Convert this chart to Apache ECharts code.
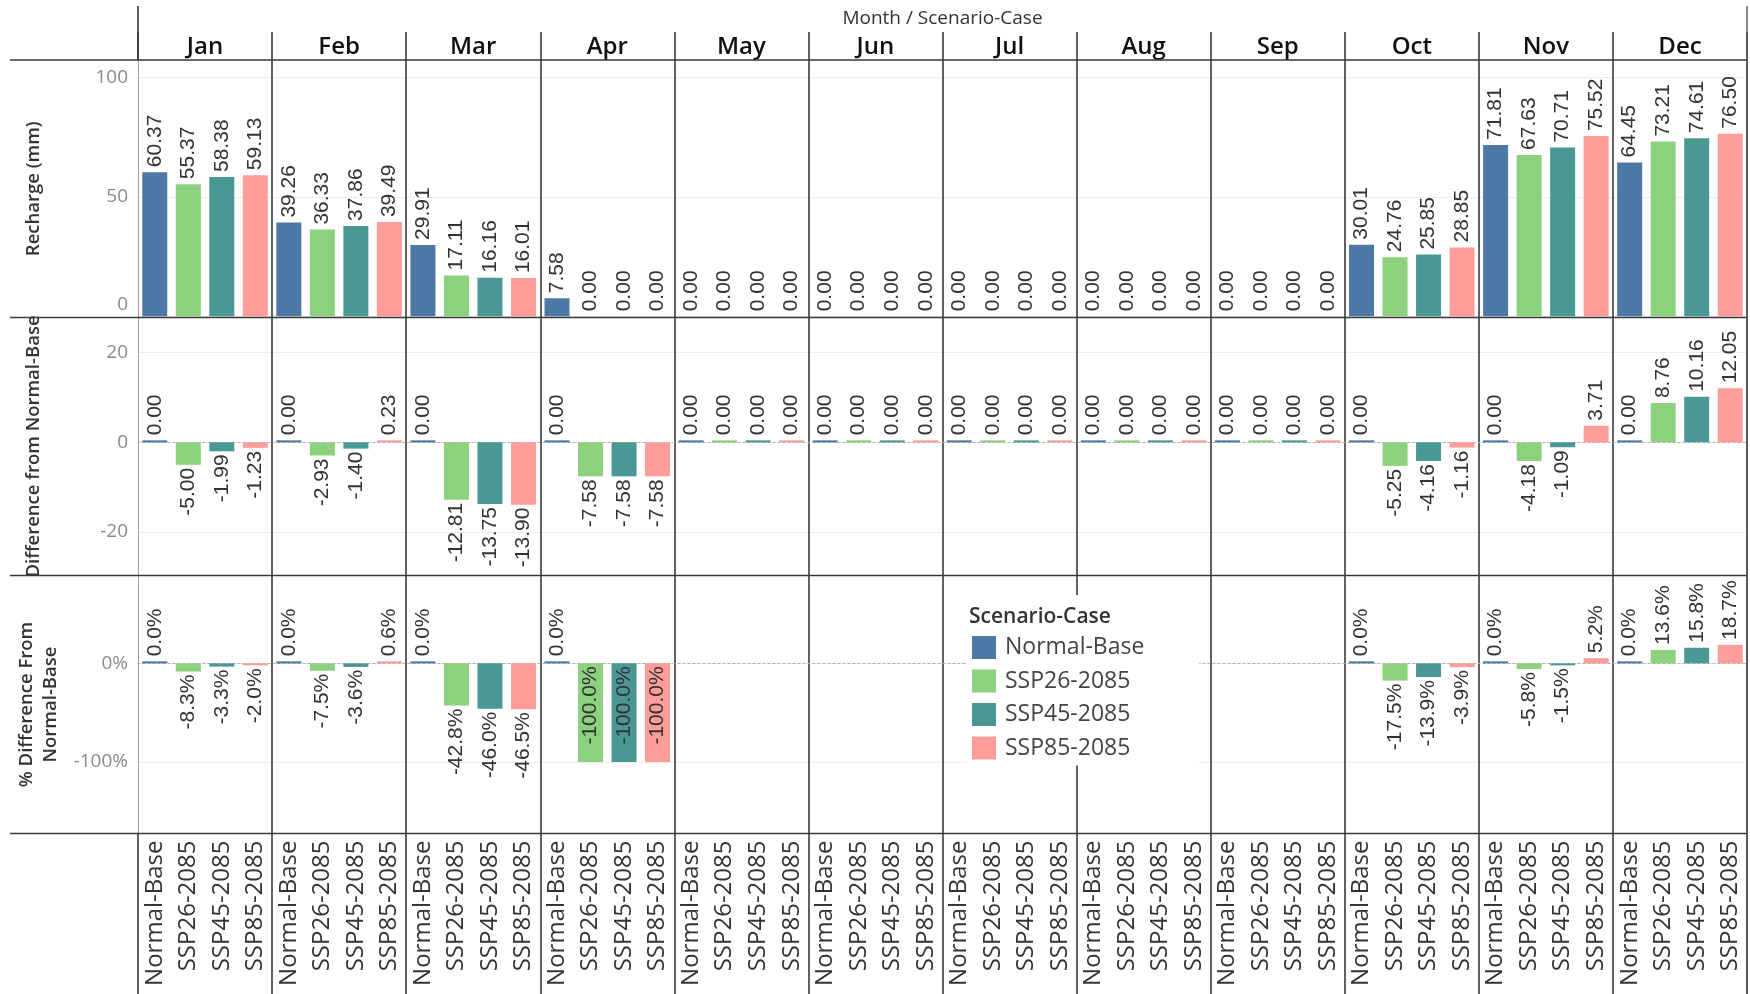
<!DOCTYPE html>
<html>
<head>
<meta charset="utf-8">
<script src="https://cdn.jsdelivr.net/npm/echarts@6/dist/echarts.min.js"></script>
<style>
  html, body { margin: 0; padding: 0; background: #ffffff; }
  #chart { width: 1750px; height: 994px; }
</style>
</head>
<body>
<div id="chart"></div>
<script>
// ---- data -------------------------------------------------------------
const months = ['Jan', 'Feb', 'Mar', 'Apr', 'May', 'Jun', 'Jul', 'Aug', 'Sep', 'Oct', 'Nov', 'Dec'];
const scenarios = ['Normal-Base', 'SSP26-2085', 'SSP45-2085', 'SSP85-2085'];
const scenarioColors = ['#4e79a7', '#8cd17d', '#499894', '#ff9d9a'];

// Monthly recharge (mm)
const rechargeNormalBase = [60.37, 39.26, 29.91, 7.58, 0, 0, 0, 0, 0, 30.01, 71.81, 64.45];
const rechargeSSP26      = [55.37, 36.33, 17.11, 0, 0, 0, 0, 0, 0, 24.76, 67.63, 73.21];
const rechargeSSP45      = [58.38, 37.86, 16.16, 0, 0, 0, 0, 0, 0, 25.85, 70.71, 74.61];
const rechargeSSP85      = [59.13, 39.49, 16.01, 0, 0, 0, 0, 0, 0, 28.85, 75.52, 76.50];

// Difference from Normal-Base (mm)
const diffNormalBase = [0, 0, 0, 0, 0, 0, 0, 0, 0, 0, 0, 0];
const diffSSP26      = [-5.00, -2.93, -12.81, -7.58, 0, 0, 0, 0, 0, -5.25, -4.18, 8.76];
const diffSSP45      = [-1.99, -1.40, -13.75, -7.58, 0, 0, 0, 0, 0, -4.16, -1.09, 10.16];
const diffSSP85      = [-1.23, 0.23, -13.90, -7.58, 0, 0, 0, 0, 0, -1.16, 3.71, 12.05];

// % difference from Normal-Base (undefined where the base is zero)
const pctNormalBase = [0, 0, 0, 0, null, null, null, null, null, 0, 0, 0];
const pctSSP26      = [-8.3, -7.5, -42.8, -100.0, null, null, null, null, null, -17.5, -5.8, 13.6];
const pctSSP45      = [-3.3, -3.6, -46.0, -100.0, null, null, null, null, null, -13.9, -1.5, 15.8];
const pctSSP85      = [-2.0, 0.6, -46.5, -100.0, null, null, null, null, null, -3.9, 5.2, 18.7];

// Tick labels for each row
const rechargeTicks = [0, 50, 100];
const diffTicks = [-20, 0, 20];
const pctTicks = [-100, 0];

// ---- layout -----------------------------------------------------------
const W = 1750, H = 994;
const L = 138, R = 1747;
const rowEdges = [60, 317.5, 575.5, 833.5];
const frame = '#3a3a3a';
const textFont = 'Open Sans';
const valueFont = 'Liberation Sans';

// one category per (month, scenario)
const categories = [];
months.forEach(() => scenarios.forEach(s => categories.push(s)));

const rows = [
  {
    values: [rechargeNormalBase, rechargeSSP26, rechargeSSP45, rechargeSSP85],
    fmt: v => v.toFixed(2), minH: 0, min: -0.5, max: 107.4, step: 50,
    ticks: rechargeTicks, tickFmt: v => String(v), name: 'Recharge (mm)', nameGap: 92
  },
  {
    values: [diffNormalBase, diffSSP26, diffSSP45, diffSSP85],
    fmt: v => v.toFixed(2), minH: 2, min: -29.7, max: 27.85, step: 20,
    ticks: diffTicks, tickFmt: v => String(v), name: 'Difference from Normal-Base', nameGap: 92
  },
  {
    values: [pctNormalBase, pctSSP26, pctSSP45, pctSSP85],
    fmt: v => v.toFixed(1) + '%', minH: 2, min: -172.4, max: 89, step: 100,
    ticks: pctTicks, tickFmt: v => v + '%', name: '% Difference From\nNormal-Base', nameGap: 68,
    insideBelow: -90
  }
];

function labelFor(v, row) {
  if (row.insideBelow != null && v <= row.insideBelow) {
    return { position: 'insideTop', align: 'right', distance: 3 };
  }
  if (v < 0) return { position: 'bottom', align: 'right', distance: 3 };
  return { position: 'top', align: 'left', distance: 5 };
}

const grids = [], xAxes = [], yAxes = [], series = [];

rows.forEach((row, r) => {
  grids.push({ left: L, width: R - L, top: rowEdges[r], height: rowEdges[r + 1] - rowEdges[r], containLabel: false });

  const isBottom = r === rows.length - 1;
  xAxes.push({
    gridIndex: r, type: 'category', data: categories,
    axisLine: r === 1
      ? { show: true, onZero: true, lineStyle: { color: '#b0b0b0', width: 1, type: [2, 3] } }
      : { show: false, onZero: false },
    axisTick: isBottom
      ? { show: true, interval: i => i % 4 === 0, length: H - rowEdges[3], lineStyle: { color: frame, width: 1.6 } }
      : { show: false },
    axisLabel: isBottom
      ? { show: true, interval: 0, rotate: 90, margin: 7, fontFamily: textFont, fontSize: 24, color: '#333' }
      : { show: false },
    splitLine: { show: true, interval: i => i % 4 === 0 && i > 0, lineStyle: { color: frame, width: 1.6 } }
  });

  yAxes.push({
    gridIndex: r, type: 'value', min: row.min, max: row.max,
    minInterval: row.step, maxInterval: row.step,
    name: row.name, nameLocation: 'middle', nameGap: row.nameGap,
    nameTextStyle: { fontFamily: textFont, fontSize: 18.5, fontWeight: 600, color: '#333', lineHeight: 24, align: 'center' },
    axisLine: { show: true, lineStyle: { color: '#a0a0a0', width: 1 } },
    axisTick: { show: false },
    splitLine: { show: true, lineStyle: { color: '#ededed', width: 1 } },
    axisLabel: {
      margin: 10, fontFamily: textFont, fontSize: 19, color: '#8a8a8a',
      formatter: v => {
        if (!row.ticks.includes(v)) return '';
        if (r === 0 && v === 0) return '{lift|' + row.tickFmt(v) + '}';
        return row.tickFmt(v);
      },
      rich: { lift: { padding: [0, 0, 24, 0], fontFamily: textFont, fontSize: 19, color: '#8a8a8a' } }
    }
  });

  scenarios.forEach((name, s) => {
    series.push({
      type: 'bar', name, xAxisIndex: r, yAxisIndex: r, stack: 'row' + r,
      barWidth: 25, barMinHeight: row.minH,
      itemStyle: { color: scenarioColors[s] },
      label: {
        show: true, rotate: 90, verticalAlign: 'middle',
        fontFamily: valueFont, fontSize: 21, color: '#333',
        formatter: p => row.fmt(p.value)
      },
      data: categories.map((_, i) => {
        if (i % 4 !== s) return null;
        const v = row.values[s][Math.floor(i / 4)];
        if (v == null) return null;
        return { value: v, label: labelFor(v, row) };
      })
    });
  });
});

// month header along the top of the first row
xAxes.push({
  gridIndex: 0, type: 'category', position: 'top', data: months,
  axisLine: { show: false, onZero: false },
  axisTick: { show: true, interval: 0, length: 28, lineStyle: { color: frame, width: 1.6 } },
  axisLabel: { interval: 0, margin: 1, fontFamily: textFont, fontSize: 24, fontWeight: 600, color: '#111', lineHeight: 24 },
  splitLine: { show: false }
});
// dotted zero line of the bottom row
xAxes.push({
  gridIndex: 2, type: 'category', position: 'top', data: categories,
  axisLine: { show: true, onZero: true, lineStyle: { color: '#b0b0b0', width: 1, type: [2, 3] } },
  axisTick: { show: false }, axisLabel: { show: false }, splitLine: { show: false }
});

const frameLines = rowEdges.map(y => ({
  type: 'line', z: 50, shape: { x1: 10, y1: y, x2: R, y2: y },
  style: { stroke: frame, lineWidth: 1.6 }
}));

const option = {
  backgroundColor: '#ffffff',
  animation: false,
  grid: grids,
  xAxis: xAxes,
  yAxis: yAxes,
  series,
  legend: {
    data: scenarios, orient: 'vertical', left: 967, top: 595,
    padding: [41, 55, 6, 5], backgroundColor: '#ffffff',
    icon: 'rect', itemWidth: 24, itemHeight: 23, itemGap: 10.5,
    selectedMode: false,
    textStyle: { fontFamily: textFont, fontSize: 23, color: '#444', lineHeight: 23, padding: [0, 0, 0, 4] }
  },
  graphic: [
    ...frameLines,
    { type: 'line', z: 50, shape: { x1: L, y1: 6, x2: L, y2: rowEdges[0] }, style: { stroke: frame, lineWidth: 1.6 } },
    { type: 'line', z: 50, shape: { x1: R, y1: 6, x2: R, y2: H }, style: { stroke: '#555', lineWidth: 1.4 } },
    {
      type: 'text', z: 50, x: (L + R) / 2, y: 19,
      style: { text: 'Month / Scenario-Case', align: 'center', verticalAlign: 'middle', fontFamily: textFont, fontSize: 19, fill: '#333' }
    },
    {
      type: 'text', z: 60, x: 969, y: 617,
      style: { text: 'Scenario-Case', align: 'left', verticalAlign: 'middle', fontFamily: textFont, fontSize: 21, fontWeight: 600, fill: '#333' }
    }
  ]
};

const chart = echarts.init(document.getElementById('chart'), null, { renderer: 'canvas', width: W, height: H });
chart.setOption(option);
</script>
</body>
</html>
